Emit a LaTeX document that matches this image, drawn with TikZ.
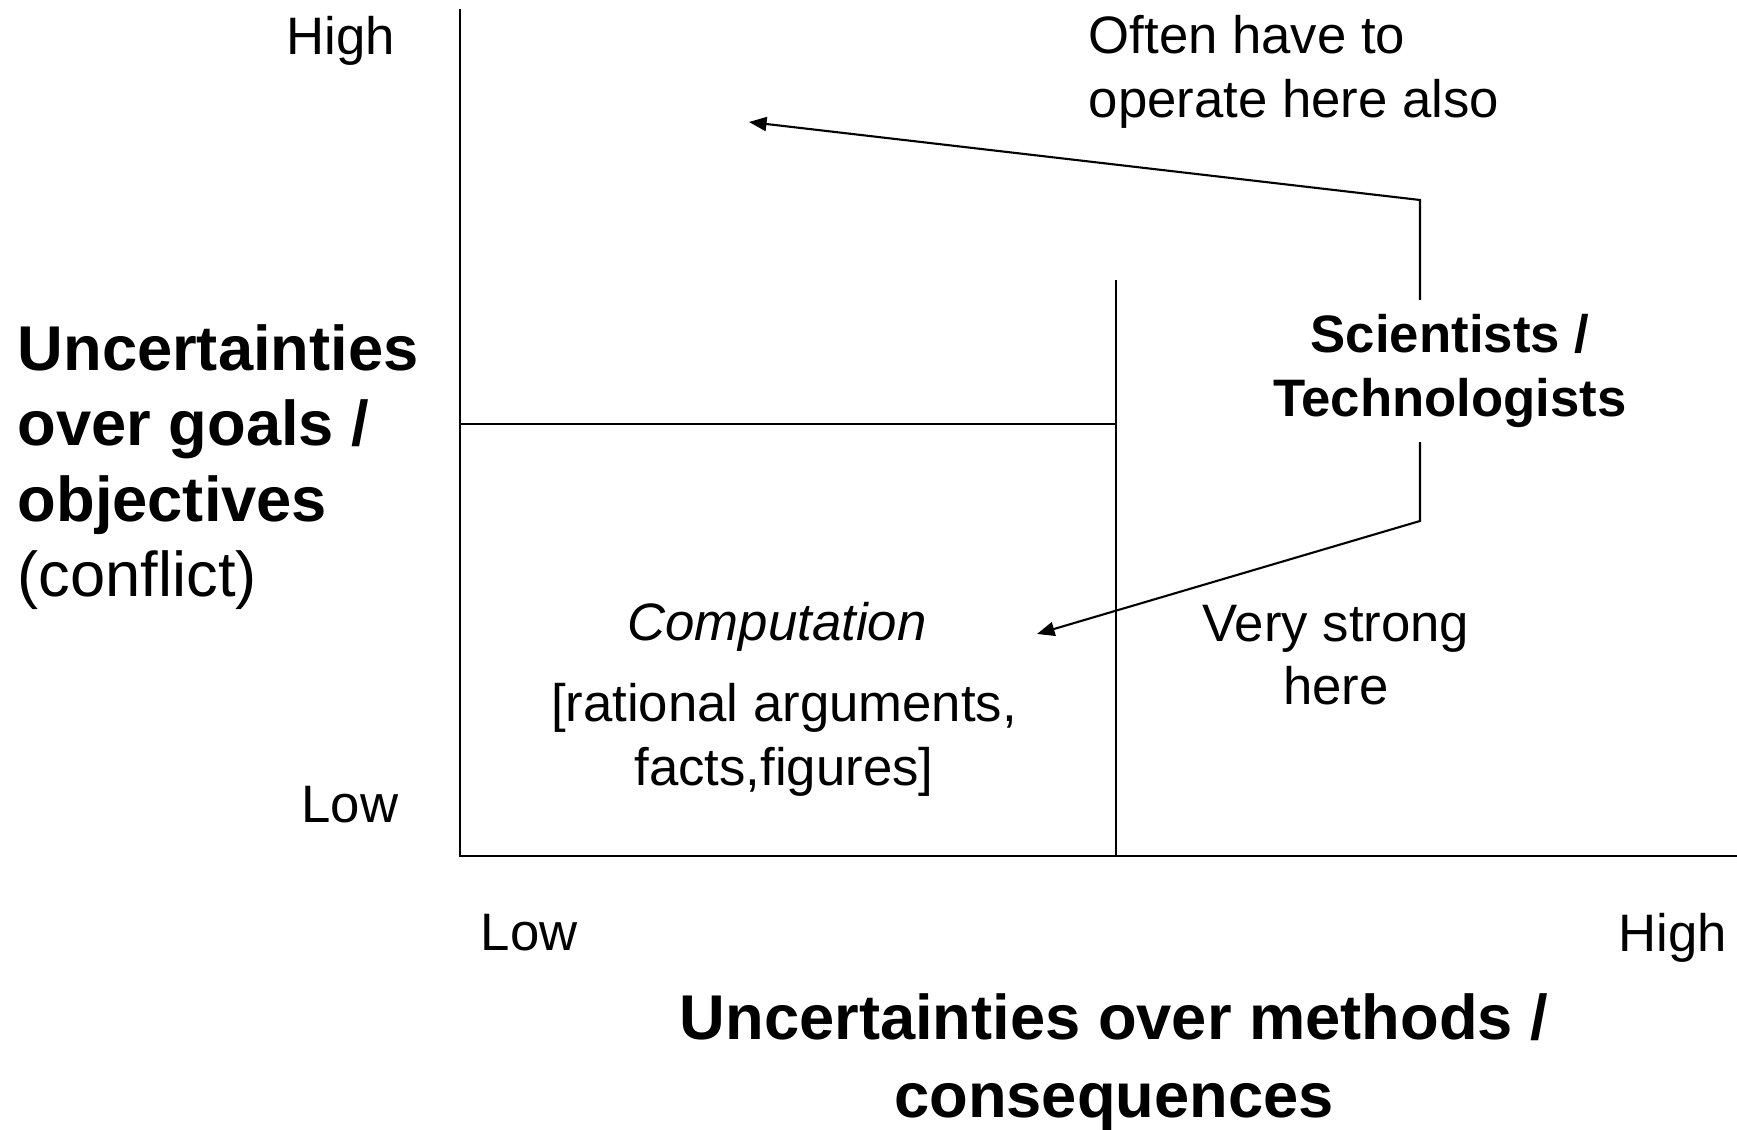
\documentclass[tikz,border=0pt]{standalone}
\usepackage{fontspec}
\setmainfont{Liberation Sans}
\usepackage{tikz}
\usetikzlibrary{arrows.meta, positioning, calc}

\begin{document}
\begin{tikzpicture}[
    axis/.style={line width=0.6pt},
    pointer/.style={line width=0.6pt, -{Triangle[length=5pt, width=4pt]}},
    lbl/.style={font=\fontsize{15}{18}\selectfont, inner sep=0pt},
    ttl/.style={font=\fontsize{18}{21.5}\selectfont, inner sep=0pt}
  ]
  \useasboundingbox (0,0) rectangle (17.37,-11.30);

  % quadrant frame
  \coordinate (origin) at (4.60,-8.56);
  \coordinate (ytop) at (4.60,-0.09);
  \coordinate (xend) at (17.37,-8.56);
  \coordinate (midleft) at (4.60,-4.24);
  \coordinate (midcross) at (11.16,-4.24);
  \coordinate (midtop) at (11.16,-2.80);
  \coordinate (midbase) at (11.16,-8.56);
  \draw[axis] (ytop) -- (origin) -- (xend);
  \draw[axis] (midleft) -- (midcross);
  \draw[axis] (midtop) -- (midbase);

  % axis ticks and titles
  \node[lbl, anchor=east] (yhigh) at (3.96,-0.41) {High};
  \node[lbl, anchor=east] (ylow) at (3.99,-8.05) {Low};
  \node[lbl, anchor=west] (xlow) at (4.80,-9.33) {Low};
  \node[lbl, anchor=west] (xhigh) at (16.18,-9.38) {High};
  \node[ttl, anchor=west, align=left] (ytitle) at (0.17,-4.67)
    {\bfseries Uncertainties\\\bfseries over goals /\\\bfseries objectives\\(conflict)};
  \node[ttl, align=center, font=\fontsize{18}{22}\selectfont\bfseries] (xtitle) at (11.14,-10.62)
    {Uncertainties over methods /\\consequences};

  % region labels
  \node[lbl, anchor=west, align=left] (often) at (10.88,-0.72) {Often have to\\operate here also};
  \node[lbl, align=center, font=\fontsize{15}{18}\selectfont\bfseries, inner sep=4pt] (sci) at (14.50,-3.71)
    {Scientists /\\Technologists};
  \node[lbl, font=\fontsize{15}{18}\selectfont\itshape] (comp) at (7.77,-6.27) {Computation};
  \node[lbl, align=center] (facts) at (7.84,-7.40) {[rational arguments,\\facts,figures]};
  \node[lbl, align=center] (strong) at (13.36,-6.55) {Very strong\\here};

  % connectors from the scientists
  \coordinate (upbend) at (14.20,-2.00);
  \coordinate (uptip) at (7.49,-1.22);
  \coordinate (lowbend) at (14.20,-5.21);
  \coordinate (lowtip) at (10.37,-6.34);
  \draw[pointer] (sci.north -| upbend) -- (upbend) -- (uptip);
  \draw[pointer] (sci.south -| lowbend) -- (lowbend) -- (lowtip);
\end{tikzpicture}
\end{document}
